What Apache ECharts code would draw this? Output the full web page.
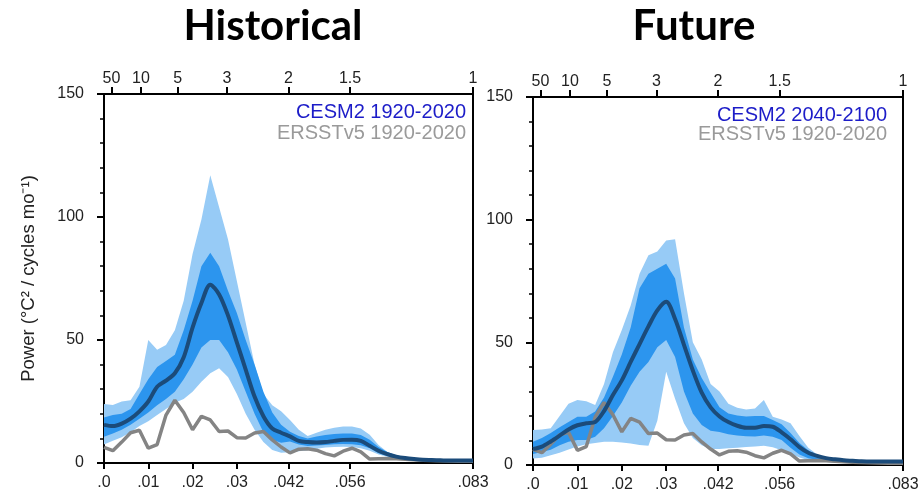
<!DOCTYPE html>
<html>
<head>
<meta charset="utf-8">
<script src="https://cdn.jsdelivr.net/npm/echarts@6/dist/echarts.min.js"></script>
<style>
  html, body { margin: 0; padding: 0; background: #fff; }
  #chart { width: 924px; height: 496px; }
</style>
</head>
<body>
<div id="chart"></div>
<script>
// frequency grid (cycles / month)
const freq = [0, 0.002, 0.004, 0.006, 0.008, 0.010, 0.012, 0.014, 0.016, 0.018,
  0.020, 0.022, 0.024, 0.026, 0.028, 0.030, 0.032, 0.034, 0.036, 0.038,
  0.040, 0.042, 0.044, 0.046, 0.048, 0.050, 0.052, 0.054, 0.056, 0.058,
  0.060, 0.062, 0.064, 0.066, 0.068, 0.070, 0.072, 0.074, 0.076, 0.078,
  0.080, 0.082, 0.08333];

// ERSSTv5 1920-2020 (same in both panels)
const obsPower = [6.4, 5, 8.5, 12.3, 13.3, 6, 7.5, 19.5, 25.5, 20.5,
  13.5, 19, 17.5, 12.8, 13, 10.3, 10.2, 12.2, 12.8, 9.4,
  6.5, 4.1, 5.6, 5.8, 5.2, 3.8, 2.9, 4.8, 6, 4.5,
  1.6, 1.7, 1.8, 1.7, 1.5, 1.3, 1.1, 1, 0.9, 0.8,
  0.7, 0.7, 0.7];

// CESM2 1920-2020
const histMean = [15.5, 15, 16, 18, 21, 25, 31, 33.5, 36.5, 43,
  55, 65, 72.5, 68.5, 60, 49, 38, 27, 19, 14,
  12.3, 10.8, 9, 8.5, 8.3, 8.5, 9, 9.4, 9.5, 9,
  7, 5, 3.6, 2.6, 2, 1.6, 1.3, 1.2, 1.1, 1,
  1, 1, 1];
const histInnerLo = [10.7, 12, 13.5, 15.5, 18, 20.5, 23.5, 26, 29, 34,
  40, 47, 50, 50, 45, 38, 29, 20, 12.5, 9.5,
  8.2, 8.7, 7.5, 6.9, 7.1, 7.3, 7.6, 7.7, 7.6, 7.2,
  6, 4, 2.8, 2, 1.6, 1.3, 1.1, 0.9, 0.9, 0.9,
  0.9, 0.9, 0.9];
const histInnerHi = [18.5, 19.5, 20, 22, 28, 34, 39, 41.5, 44, 54,
  66, 80, 85.5, 80, 70, 61, 50, 40, 29, 20.5,
  15.5, 12.7, 11, 10, 10.8, 11.4, 11.8, 12, 12, 11.4,
  9.5, 6.5, 4.5, 3, 2.3, 1.8, 1.5, 1.3, 1.2, 1.2,
  1.2, 1.2, 1.2];
const histOuterLo = [7.5, 9, 10.5, 12.5, 15, 17, 19.5, 22, 24.5, 26,
  29, 33, 36.5, 38.5, 35, 28, 20, 13.5, 8.5, 5.3,
  4.2, 4.4, 4.8, 5.2, 5.8, 6.3, 6.5, 6.6, 6.5, 6,
  5, 3.5, 2.5, 1.6, 1.1, 0.8, 0.6, 0.6, 0.6, 0.6,
  0.6, 0.6, 0.6];
const histOuterHi = [24, 23.6, 25, 25.5, 31, 50, 46, 48, 54, 66,
  85, 99, 117, 104, 91, 74, 57, 40, 28, 23.5,
  21, 17.5, 13.5, 11, 12.3, 13.5, 14.3, 14.8, 14.8, 14,
  11.5, 7.3, 4.5, 3.2, 2.5, 2, 1.7, 1.5, 1.4, 1.3,
  1.3, 1.3, 1.3];

// CESM2 2040-2100
const futMean = [6.5, 7.5, 9.6, 12, 14.5, 16.2, 17, 17.5, 22, 28.5,
  34.5, 42, 49.3, 56.5, 63, 66.5, 59.5, 49, 38.5, 29.5,
  23.5, 19.8, 17.5, 16, 15.2, 15.2, 15.9, 15.6, 13.3, 10.5,
  7.3, 5, 3.7, 2.8, 2.3, 1.9, 1.7, 1.5, 1.4, 1.4,
  1.4, 1.4, 1.4];
const futInnerLo = [4.5, 5.3, 6.2, 8, 9.5, 10.2, 10.2, 11.5, 15, 20,
  25.5, 32.3, 38, 42, 48, 51, 44, 30, 21, 16.3,
  14, 13.5, 12.5, 12, 11.7, 11.6, 12, 11.5, 10.2, 7,
  4.3, 2.8, 2.1, 1.8, 1.6, 1.2, 1.2, 1.2, 1.2, 1.2,
  1.2, 1.2, 1.2];
const futInnerHi = [9.5, 11, 13, 15.4, 17.5, 19.7, 19.7, 21.8, 27.5, 36,
  45, 56, 72, 78, 80, 82, 76, 56, 43, 35.5,
  29.5, 23.5, 21, 20.2, 19.8, 20, 20, 18.3, 16.6, 13,
  9, 6, 4, 2.8, 2.2, 1.8, 1.8, 1.8, 1.8, 1.8,
  1.8, 1.8, 1.8];
const futOuterLo = [2.7, 3, 4, 5, 6.3, 7.5, 8.5, 9, 9.5, 9.5,
  9.2, 8.8, 8.2, 7.8, 18, 38, 27, 17, 11, 8,
  6.5, 6.5, 6.8, 7, 7.3, 7.5, 7.8, 7.2, 6, 4.6,
  3.1, 2, 1.5, 1.2, 1, 1, 1, 1, 1, 1,
  1, 1, 1];
const futOuterHi = [14.3, 14.5, 15, 20, 25, 26.5, 26, 24.5, 33, 46,
  55, 65, 78, 85.5, 87, 91.5, 92, 70, 50, 43,
  33, 30, 25, 23.3, 22.6, 23, 26.5, 19.7, 18.5, 17,
  11.8, 7, 4.3, 3, 2.4, 2.1, 1.9, 1.8, 1.8, 1.8,
  1.8, 1.9, 2];

// axis ticks
const bottomTickVals = [0, 0.01, 0.02, 0.03, 1 / 24, 1 / 18, 1 / 12];
const bottomTickLabels = ['.0', '.01', '.02', '.03', '.042', '.056', '.083'];
const periodYears = [50, 10, 5, 3, 2, 1.5, 1];

const FMAX = 1 / 12;
const topTickVals = periodYears.map(p => 1 / (12 * p));

const C_OUTER = '#97cbf6';
const C_INNER = '#2c95ee';
const C_MEAN = '#1b4b7a';
const C_OBS = '#848484';
const AXFONT = 'Liberation Sans';

function pairs(arr) {
  return freq.map((f, i) => [f, arr[i]]);
}

// band drawn as one polygon, points through the axis scales (api.coord)
function bandSeries(idx, lo, hi, color) {
  return {
    type: 'custom', xAxisIndex: idx * 2, yAxisIndex: idx, silent: true,
    data: [[0, 0]],
    renderItem: (params, api) => {
      const pts = [];
      for (let i = 0; i < freq.length; i++) pts.push(api.coord([freq[i], hi[i]]));
      for (let i = freq.length - 1; i >= 0; i--) pts.push(api.coord([freq[i], lo[i]]));
      return { type: 'polygon', shape: { points: pts }, style: { fill: color, stroke: null } };
    }
  };
}

function panelSeries(idx, mean, iLo, iHi, oLo, oHi) {
  return [
    bandSeries(idx, oLo, oHi, C_OUTER),
    bandSeries(idx, iLo, iHi, C_INNER),
    {
      type: 'line', xAxisIndex: idx * 2, yAxisIndex: idx,
      data: pairs(obsPower), symbol: 'none',
      lineStyle: { color: C_OBS, width: 3.5 }
    },
    {
      type: 'line', xAxisIndex: idx * 2, yAxisIndex: idx,
      data: pairs(mean), symbol: 'none', smooth: 0.3,
      lineStyle: { color: C_MEAN, width: 4 }
    }
  ];
}

function bottomAxis(gi) {
  return {
    type: 'value', gridIndex: gi, position: 'bottom', min: 0, max: FMAX,
    axisLine: { lineStyle: { color: '#000', width: 2 } },
    axisTick: { customValues: bottomTickVals, length: 6, lineStyle: { color: '#000', width: 2 } },
    axisLabel: {
      customValues: bottomTickVals, margin: 12, fontSize: 16, color: '#222', fontFamily: AXFONT,
      formatter: v => {
        let k = 0;
        bottomTickVals.forEach((t, i) => { if (Math.abs(t - v) < Math.abs(bottomTickVals[k] - v)) k = i; });
        return bottomTickLabels[k];
      }
    },
    splitLine: { show: false }
  };
}

function topAxis(gi) {
  return {
    type: 'value', gridIndex: gi, position: 'top', min: 0, max: FMAX,
    axisLine: { lineStyle: { color: '#000', width: 2 } },
    axisTick: { customValues: topTickVals, length: 7, lineStyle: { color: '#000', width: 2 } },
    axisLabel: {
      customValues: topTickVals, margin: 7, fontSize: 16, color: '#222', fontFamily: AXFONT,
      formatter: v => {
        let k = 0;
        topTickVals.forEach((t, i) => { if (Math.abs(t - v) < Math.abs(topTickVals[k] - v)) k = i; });
        return String(periodYears[k]);
      }
    },
    splitLine: { show: false }
  };
}

function leftAxis(gi, withName) {
  return {
    type: 'value', gridIndex: gi, min: 0, max: 150, interval: 50,
    name: withName ? 'Power (°C² / cycles mo⁻¹)' : '',
    nameLocation: 'middle', nameGap: 66,
    nameTextStyle: { fontSize: 18.5, color: '#222', fontFamily: AXFONT },
    axisLine: { lineStyle: { color: '#000', width: 2 } },
    axisTick: { length: 7, lineStyle: { color: '#000', width: 2 } },
    minorTick: { show: true, splitNumber: 5, length: 4, lineStyle: { color: '#000', width: 1.5 } },
    axisLabel: { margin: 20, fontSize: 16, color: '#222', fontFamily: AXFONT },
    splitLine: { show: false }
  };
}

function legendText(x, y, text, color) {
  return {
    type: 'text', x: x, y: y, z: 100,
    style: { text: text, fill: color, font: '20px "Liberation Sans"', align: 'right', verticalAlign: 'middle' }
  };
}

const chart = echarts.init(document.getElementById('chart'));

chart.setOption({
  animation: false,
  backgroundColor: '#fff',
  grid: [
    { left: 104, top: 94, width: 369, height: 369, show: true, borderColor: '#000', borderWidth: 2, backgroundColor: 'transparent' },
    { left: 533, top: 97, width: 370, height: 368, show: true, borderColor: '#000', borderWidth: 2, backgroundColor: 'transparent' }
  ],
  xAxis: [bottomAxis(0), topAxis(0), bottomAxis(1), topAxis(1)],
  yAxis: [leftAxis(0, true), leftAxis(1, false)],
  series: [
    ...panelSeries(0, histMean, histInnerLo, histInnerHi, histOuterLo, histOuterHi),
    ...panelSeries(1, futMean, futInnerLo, futInnerHi, futOuterLo, futOuterHi)
  ],
  graphic: [
    {
      type: 'text', x: 273, y: 26,
      style: { text: 'Historical', fill: '#000', font: 'bold 42px Lato', align: 'center', verticalAlign: 'middle' }
    },
    {
      type: 'text', x: 694, y: 26,
      style: { text: 'Future', fill: '#000', font: 'bold 42px Lato', align: 'center', verticalAlign: 'middle' }
    },
    legendText(466, 112, 'CESM2 1920-2020', '#1c1cc8'),
    legendText(466, 133, 'ERSSTv5 1920-2020', '#9a9a9a'),
    legendText(887, 115, 'CESM2 2040-2100', '#1c1cc8'),
    legendText(887, 134, 'ERSSTv5 1920-2020', '#9a9a9a')
  ]
});
</script>
</body>
</html>
